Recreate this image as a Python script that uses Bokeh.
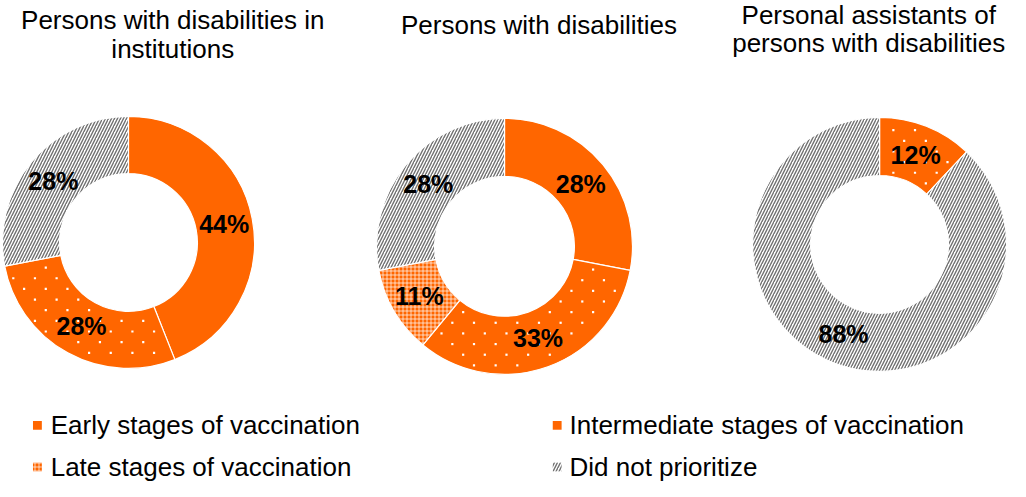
import math
from bokeh.plotting import figure
from bokeh.models import Range1d
from bokeh.embed import file_html
from bokeh.resources import INLINE
from bokeh.core.properties import value

# ---------------- data ----------------
categories = [
    "Early stages of vaccination",
    "Intermediate stages of vaccination",
    "Late stages of vaccination",
    "Did not prioritize",
]
titles = [
    ["Persons with disabilities in", "institutions"],
    ["Persons with disabilities"],
    ["Personal assistants of", "persons with disabilities"],
]
institutions = [44, 28, 0, 28]
persons = [28, 33, 11, 28]
assistants = [0, 12, 0, 88]
series = [institutions, persons, assistants]

# ---------------- styles ----------------
ORANGE = "#FF6600"
GRAY = "#707070"
FONT = value("Liberation Sans")

slice_styles = [
    dict(fill_color=ORANGE),
    dict(fill_color=ORANGE),  # white dot texture added separately
    dict(fill_color=ORANGE, hatch_pattern="cross", hatch_color="white",
         hatch_scale=4, hatch_weight=0.7),
    dict(fill_color="white", hatch_pattern="right_diagonal_line", hatch_color=GRAY,
         hatch_scale=6, hatch_weight=1.4),
]
DOTTED = 1  # category index that carries the sparse white-dot texture

W, H = 1010, 481
REF_W, REF_H = 1026, 497
p = figure(width=W, height=H, x_range=Range1d(0, REF_W), y_range=Range1d(0, REF_H),
           x_axis_type=None, y_axis_type=None, toolbar_location=None,
           output_backend="svg", min_border=0, outline_line_color=None,
           background_fill_color="white", border_fill_color="white")
p.grid.grid_line_color = None


def Y(sy):
    # layout helper: reference-pixel row -> data y
    return REF_H - sy


def dot_texture(cx, cy, r_in, r_out, f0, f1, step=11):
    """Staggered white-dot texture positions inside an annular sector
    (fractions f0..f1 of a turn, clockwise from 12 o'clock)."""
    xs, ys = [], []
    row = 0
    for sy in range(int(cy - r_out), int(cy + r_out) + 1, step):
        off = step if row % 2 else 0
        row += 1
        for sx in range(int(cx - r_out) - 2 * step + off, int(cx + r_out) + 1, 2 * step):
            dx, dy = sx - cx, sy - cy
            dist = math.hypot(dx, dy)
            if not (r_in + 3 < dist < r_out - 3):
                continue
            t = (math.atan2(dx, -dy) / (2 * math.pi)) % 1.0
            if f0 + 0.01 < t < f1 - 0.01:
                xs.append(sx)
                ys.append(Y(sy))
    return xs, ys


# donut layout (centres in reference pixels)
centers = [(130, 250), (512, 254), (893, 252)]
outer_r = [128, 130, 129]
inner_r = [70, 71, 70]
title_x = [175, 547, 882]
title_y = [[20, 50], [25], [15, 44]]

for d, vals in enumerate(series):
    cx, cy = centers[d]
    R, r = outer_r[d], inner_r[d]
    total = float(sum(vals))
    cum = 0.0
    lx, ly, lt = [], [], []
    for i, v in enumerate(vals):
        if v <= 0:
            continue
        f0, f1 = cum / total, (cum + v) / total
        a0 = math.pi / 2 - 2 * math.pi * f0
        a1 = math.pi / 2 - 2 * math.pi * f1
        p.annular_wedge(x=cx, y=Y(cy), inner_radius=r, outer_radius=R,
                        start_angle=a0, end_angle=a1, direction="clock",
                        line_color="white", line_width=1.2, **slice_styles[i])
        if i == DOTTED:
            dx_, dy_ = dot_texture(cx, cy, r, R, f0, f1)
            p.scatter(x=dx_, y=dy_, marker="square", size=2.2,
                      fill_color="white", line_color=None)
        am = (a0 + a1) / 2
        rm = (R + r) / 2
        lx.append(cx + rm * math.cos(am))
        ly.append(Y(cy) + rm * math.sin(am))
        lt.append(f"{v}%")
        cum += v
    p.text(x=lx, y=ly, text=lt, text_font=FONT, text_font_size="25px",
           text_font_style="bold", text_align="center", text_baseline="middle",
           text_color="black")
    # title
    p.text(x=[title_x[d]] * len(titles[d]), y=[Y(t) for t in title_y[d]],
           text=titles[d], text_font=FONT, text_font_size="26px",
           text_align="center", text_baseline="middle", text_color="black")

# legend (2 columns x 2 rows)
leg_cols_marker = [37.5, 565.5]
leg_cols_text = [51, 578]
leg_rows = [439, 482]
for i, name in enumerate(categories):
    col, row = i % 2, i // 2
    p.rect(x=leg_cols_marker[col], y=Y(leg_rows[row]), width=9, height=9,
           line_color=None, **slice_styles[i])
    p.text(x=[leg_cols_text[col]], y=[Y(leg_rows[row])], text=[name],
           text_font=FONT, text_font_size="26px", text_align="left",
           text_baseline="middle", text_color="black")

open("out.html", "w").write(file_html(p, INLINE))
